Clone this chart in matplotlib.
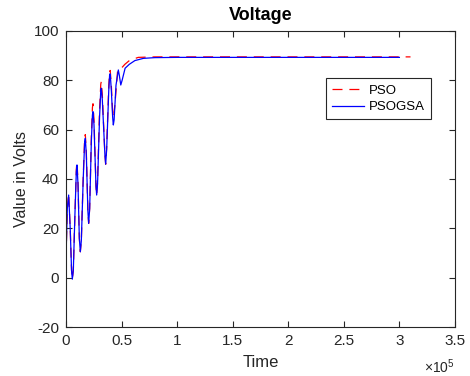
import numpy as np
import matplotlib
matplotlib.use("Agg")
import matplotlib.pyplot as plt

plt.rcParams['font.family'] = ['Liberation Sans', 'DejaVu Sans']
plt.rcParams['mathtext.fontset'] = 'custom'
plt.rcParams['mathtext.rm'] = 'Liberation Sans'
plt.rcParams['axes.unicode_minus'] = False

# PSOGSA (blue solid)
t_psogsa = [0, 1200, 2400, 3800, 5000, 5700, 6600, 8000, 9300, 9900, 10800, 12000,
            12900, 13800, 15500, 16800, 17400, 18300, 19700, 20400, 21300, 22800,
            23800, 24300, 25200, 27000, 27600, 28400, 30200, 31300, 31800, 32700,
            35000, 35700, 36600, 38500, 39300, 39800, 40800, 42000, 42600, 43300,
            45000, 47100, 48000, 49300, 50500, 53200, 57000, 62000, 69600, 80000,
            100000, 300000]
v_psogsa = [8, 28, 33.5, 20, 3, -0.6, 3, 25, 43, 45.7, 38, 16,
            10.5, 15, 40, 55, 56.5, 50, 27, 22, 28, 55,
            66, 67.3, 62, 37, 33.5, 38, 65, 76, 76.8, 72,
            50, 46, 52, 76, 82.5, 82.6, 76, 65, 61.9, 64,
            78, 84.2, 82, 78.1, 80, 84.9, 86.5, 88, 88.9, 89.2,
            89.3, 89.3]

# PSO (red dashed)
t_pso = [0, 1200, 2400, 3800, 5000, 5700, 6600, 8000, 9300, 9900, 10800, 12000,
         12900, 13800, 15500, 16800, 17400, 18300, 19700, 20400, 21300, 22800,
         23800, 24300, 25200, 27000, 27600, 28400, 30200, 31300, 31800, 32700,
         35000, 35700, 36600, 38500, 39300, 39800, 40800, 42000, 42800, 44000,
         46500, 49000, 53000, 57000, 65000, 80000, 310000]
v_pso = [8, 28.5, 34, 20, 3, -0.5, 3, 25, 44, 47, 39, 16,
         10.5, 15, 41, 56.5, 58, 51, 27, 22, 28, 57,
         69, 70.5, 64, 37, 33.5, 39, 68, 78.5, 79.5, 74,
         50, 46, 53, 78, 83.5, 84, 78, 67, 65, 70,
         84.2, 84.5, 86.5, 88, 89.3, 89.5, 89.5]

xticks = [0, 0.5e5, 1e5, 1.5e5, 2e5, 2.5e5, 3e5, 3.5e5]
xlabels = ['0', '0.5', '1', '1.5', '2', '2.5', '3', '3.5']
yticks = [-20, 0, 20, 40, 60, 80, 100]

fig = plt.figure(figsize=(4.7, 3.76), dpi=100)
ax = fig.add_axes([0.1404, 0.1303, 0.8276, 0.7873])

ax.plot(t_pso, v_pso, color='r', ls=(0, (8, 5.5)), lw=0.9, label='PSO')
ax.plot(t_psogsa, v_psogsa, color='b', lw=0.9, label='PSOGSA')

ax.set_xlim(0, 3.5e5)
ax.set_ylim(-20, 100)
ax.set_xticks(xticks)
ax.set_xticklabels(xlabels)
ax.set_yticks(yticks)
ax.tick_params(direction='in', top=True, right=True, length=4, width=0.8,
               labelsize=11, colors='0.15', pad=5)
for s in ax.spines.values():
    s.set_color('0.15')
    s.set_linewidth(0.8)

ax.set_title('Voltage', fontsize=13, fontweight='bold', pad=8)
ax.set_xlabel('Time', fontsize=12, color='0.15', labelpad=5)
ax.set_ylabel('Value in Volts', fontsize=11.5, color='0.15', labelpad=3)
ax.text(1.0, -0.102, r'$\times\mathregular{10^{5}}$', transform=ax.transAxes,
        ha='right', va='top', fontsize=10, color='0.15')

leg = ax.legend(loc='upper right', bbox_to_anchor=(0.938, 0.84), fontsize=9.5,
                fancybox=False, framealpha=1, edgecolor='0.15', borderpad=0.45,
                handlelength=2.4, handletextpad=0.4, labelspacing=0.35,
                borderaxespad=0)
leg.get_frame().set_linewidth(0.8)

fig.savefig('out.png', dpi=100)
